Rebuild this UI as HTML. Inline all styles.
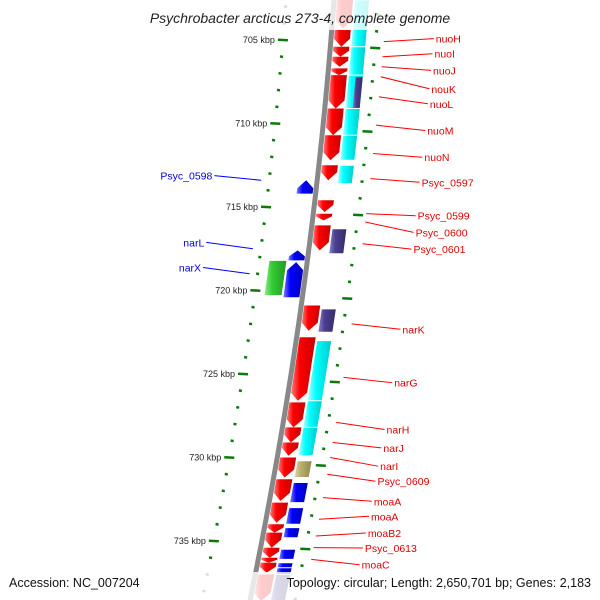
<!DOCTYPE html>
<html><head><meta charset="utf-8"><style>
html,body{margin:0;padding:0;background:#fff}
svg{display:block}
text{font-family:"Liberation Sans",sans-serif}
</style></head><body>
<svg id="map" width="600" height="600" viewBox="0 0 600 600" xmlns="http://www.w3.org/2000/svg">
<defs>
<linearGradient id="gback" x1="0" x2="1" y1="0" y2="0"><stop offset="0" stop-color="#cfcfcf"/><stop offset="0.5" stop-color="#8a8a8a"/><stop offset="1" stop-color="#5a5a5a"/></linearGradient>
</defs>
<g id="ticks"></g>
<path id="backbone" fill="none" stroke="#888" stroke-width="5"/>
<g id="genes"></g>
<g id="labels"></g>
<rect x="120" y="0" width="360" height="30" fill="#fff" opacity="0.8"/>
<text x="300" y="23" text-anchor="middle" font-size="14" font-style="italic" fill="#222">Psychrobacter arcticus 273-4, complete genome</text>
<rect x="0" y="572" width="600" height="28" fill="#fff" opacity="0.8"/>
<text x="9" y="587" font-size="12.5" fill="#111">Accession: NC_007204</text>
<text x="591" y="587" text-anchor="end" font-size="12.5" fill="#111">Topology: circular; Length: 2,650,701 bp; Genes: 2,183</text>
</svg>
<script>
// scale data
const majorTicks = [705, 710, 715, 720, 725, 730, 735];
const tickLabels = ["705 kbp","710 kbp","715 kbp","720 kbp","725 kbp","730 kbp","735 kbp"];
const minorStart = 702;
const minorEnd = 739;
// genes
const geneStart = [702.6,704.4,705.4,706.0,706.7,707.1,709.1,710.7,712.5,714.6,715.4,716.1,720.9,722.8,726.7,728.2,729.1,730.0,731.3,732.7,734.0,734.5,735.4,736.0,736.3,737.0,
  702.6,705.4,707.1,709.1,710.7,712.5,707.2,716.3,721.1,723.0,726.6,728.2,730.2,731.5,733.0,734.2,735.5,736.3,736.6,737.0,
  713.4,717.6,718.3,718.2];
const geneEnd = [704.3,705.4,706.0,706.6,707.1,709.1,710.7,712.2,713.4,715.3,715.8,717.6,722.4,726.6,728.2,729.1,729.9,731.2,732.6,733.9,734.5,735.4,736.0,736.3,736.9,738.6,
  705.4,707.1,709.1,710.7,712.2,713.6,709.1,717.8,722.5,726.6,728.2,729.9,731.2,732.7,734.0,734.8,736.1,736.6,737.0,738.6,
  714.2,718.2,720.4,720.3];
const geneStrand = [1,1,1,1,1,1,1,1,1,1,1,1,1,1,1,1,1,1,1,1,1,1,1,1,1,1,
  0,0,0,0,0,0,0,0,0,0,0,0,0,0,0,0,0,0,0,0,
  -1,-1,-1,0];
const geneTrack = [1,1,1,1,1,1,1,1,1,1,1,1,1,1,1,1,1,1,1,1,1,1,1,1,1,1,
  2,2,2,2,2,2,3,2,2,2,2,2,2,2,2,2,2,2,2,2,
  -1,-1,-1,-2];
const geneColor = ["r","r","r","r","r","r","r","r","r","r","r","r","r","r","r","r","r","r","r","r","r","r","r","r","r","r",
  "c","c","c","c","c","c","p","p","p","c","c","c","o","b","b","b","b","b","b","p",
  "b","b","b","g"];
// labels
const rightNames = ["nuoH","nuoI","nuoJ","nouK","nuoL","nuoM","nuoN","Psyc_0597","Psyc_0599","Psyc_0600","Psyc_0601","narK","narG","narH","narJ","narI","Psyc_0609","moaA","moaA","moaB2","Psyc_0613","moaC"];
const rightAnchorKbp = [705.1,706.0,706.6,707.2,708.4,710.1,711.8,713.3,715.4,715.9,717.2,722.0,725.2,727.9,729.1,730.0,731.0,732.4,733.7,734.7,735.4,736.1];
const rightLabelKbp = [705.1,706.0,707.0,708.1,709.0,710.6,712.2,713.7,715.7,716.7,717.7,722.5,725.7,728.5,729.6,730.7,731.6,732.8,733.7,734.7,735.6,736.6];
const leftNames = ["Psyc_0598","narL","narX"];
const leftAnchorKbp = [713.4,717.5,719.0];
const leftLabelKbp = [713.3,717.3,718.8];

const NS = "http://www.w3.org/2000/svg";
const Y = k => 40 + (k - 705) * 16.7;
const X = y => 334 - 0.0733 * y - 0.000111 * y * y;
const palette = {r:["#ff7a7a","#ff0000","#c80000"], c:["#aaffff","#00ffff","#00cccc"], p:["#8a80c8","#4b3f8f","#352c6a"], o:["#dcd6a0","#b9b06e","#8f884f"], b:["#7a7aff","#0000ff","#0000b8"], g:["#88ee88","#33cc33","#229922"]};
const trackOff = {"1":[3,19],"2":[21,35],"3":[28,35],"-1":[-19,-3],"-2":[-38,-21]};
const defs = document.querySelector("defs");
Object.keys(palette).forEach(c => {
  const lg = document.createElementNS(NS, "linearGradient");
  lg.setAttribute("id", "g" + c);
  palette[c].forEach((col, i) => {
    const s = document.createElementNS(NS, "stop");
    s.setAttribute("offset", [0, 0.35, 1][i]);
    s.setAttribute("stop-color", col);
    lg.appendChild(s);
  });
  defs.appendChild(lg);
});

// backbone
let d = "";
for (let y = -5; y <= 605; y += 5) d += (d ? "L" : "M") + X(y).toFixed(1) + " " + y + " ";
document.getElementById("backbone").setAttribute("d", d);

// ticks
const tg = document.getElementById("ticks");
for (let k = minorStart; k <= minorEnd; k++) {
  const y = Y(k);
  const isMajor = majorTicks.indexOf(k) >= 0;
  const l = document.createElementNS(NS, "line");
  const xl = X(y) - 48;
  const w = isMajor ? 5 : 1.5;
  l.setAttribute("x1", xl - w); l.setAttribute("x2", xl + w);
  l.setAttribute("y1", y - 0.3); l.setAttribute("y2", y + 0.3);
  l.setAttribute("stroke", "#0a7a0a"); l.setAttribute("stroke-width", "2.5");
  
  
  tg.appendChild(l);
  const yr = y + 8;
  const r = document.createElementNS(NS, "line");
  const xr = X(yr) + 45;
  r.setAttribute("x1", xr - w); r.setAttribute("x2", xr + w);
  r.setAttribute("y1", yr - 0.3); r.setAttribute("y2", yr + 0.3);
  r.setAttribute("stroke", "#0a7a0a"); r.setAttribute("stroke-width", "2.5");
  
  
  tg.appendChild(r);
}
majorTicks.forEach((k, i) => {
  const y = Y(k);
  const t = document.createElementNS(NS, "text");
  t.setAttribute("x", X(y) - 56); t.setAttribute("y", y + 3);
  t.setAttribute("text-anchor", "end"); t.setAttribute("font-size", "9"); t.setAttribute("fill", "#222");
  t.textContent = tickLabels[i];
  
  
  tg.appendChild(t);
});

// genes
const gg = document.getElementById("genes");
for (let i = 0; i < geneStart.length; i++) {
  const y1 = Y(geneStart[i]), y2 = Y(geneEnd[i]);
  const [o1, o2] = trackOff[String(geneTrack[i])];
  const len = y2 - y1, h = Math.min(8, len * 0.6), mid = (o1 + o2) / 2;
  let pts;
  if (geneStrand[i] === 1) {
    const yh = y2 - h;
    pts = [[X(y1)+o1,y1],[X(y1)+o2,y1],[X(yh)+o2,yh],[X(y2)+mid,y2],[X(yh)+o1,yh]];
  } else if (geneStrand[i] === -1) {
    const yh = y1 + h;
    pts = [[X(y1)+mid,y1],[X(yh)+o2,yh],[X(y2)+o2,y2],[X(y2)+o1,y2],[X(yh)+o1,yh]];
  } else {
    pts = [[X(y1)+o1,y1+0.5],[X(y1)+o2,y1+0.5],[X(y2)+o2,y2-0.5],[X(y2)+o1,y2-0.5]];
  }
  const p = document.createElementNS(NS, "polygon");
  p.setAttribute("points", pts.map(q => q[0].toFixed(1) + "," + q[1].toFixed(1)).join(" "));
  p.setAttribute("fill", "url(#g" + geneColor[i] + ")");
  
  
  gg.appendChild(p);
}

// labels
const lg2 = document.getElementById("labels");
rightNames.forEach((n, i) => {
  const ya = Y(rightAnchorKbp[i]), yl = Y(rightLabelKbp[i]);
  const lx = X(yl) + 105;
  const l = document.createElementNS(NS, "line");
  l.setAttribute("x1", X(ya) + 53); l.setAttribute("y1", ya);
  l.setAttribute("x2", lx - 2); l.setAttribute("y2", yl - 3);
  l.setAttribute("stroke", "#ff0000"); l.setAttribute("stroke-width", "1");
  
  
  lg2.appendChild(l);
  const t = document.createElementNS(NS, "text");
  t.setAttribute("x", lx); t.setAttribute("y", yl + 1);
  t.setAttribute("font-size", "10.5"); t.setAttribute("fill", "#e00000");
  t.textContent = n;
  
  
  lg2.appendChild(t);
});
leftNames.forEach((n, i) => {
  const ya = Y(leftAnchorKbp[i]), yl = Y(leftLabelKbp[i]);
  const lx = X(yl) - 105;
  const l = document.createElementNS(NS, "line");
  l.setAttribute("x1", X(ya) - 56); l.setAttribute("y1", ya);
  l.setAttribute("x2", lx + 2); l.setAttribute("y2", yl - 3);
  l.setAttribute("stroke", "#0000ff"); l.setAttribute("stroke-width", "1");
  
  
  lg2.appendChild(l);
  const t = document.createElementNS(NS, "text");
  t.setAttribute("x", lx); t.setAttribute("y", yl + 1);
  t.setAttribute("text-anchor", "end");
  t.setAttribute("font-size", "10.5"); t.setAttribute("fill", "#0000e0");
  t.textContent = n;
  
  
  lg2.appendChild(t);
});
</script>
</body></html>
